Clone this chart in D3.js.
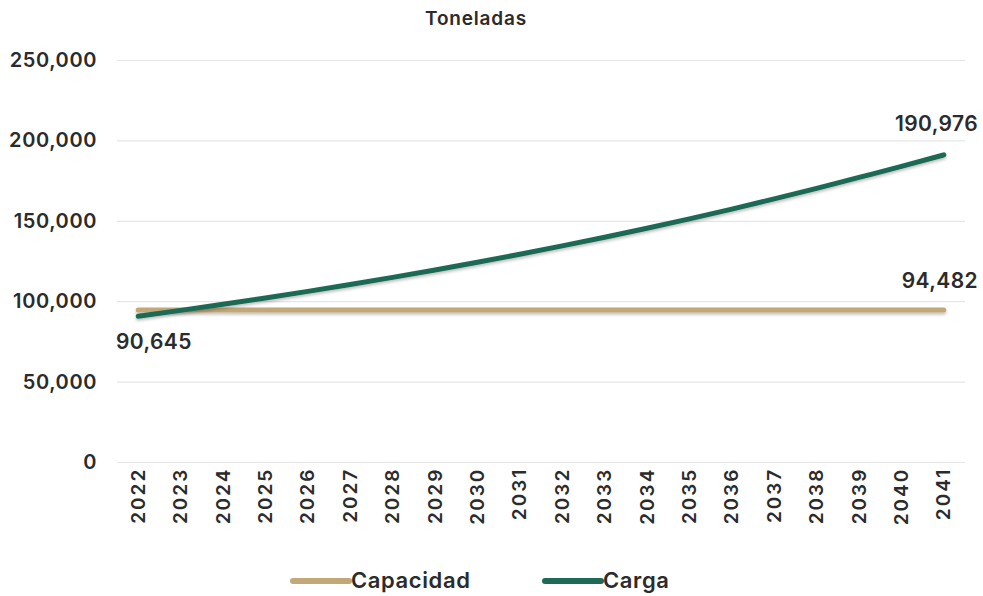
<!DOCTYPE html>
<html><head><meta charset="utf-8">
<script src="https://cdn.jsdelivr.net/npm/d3@7"></script>
<style>
body{margin:0;background:#fff;}
svg{font-family:Inter, "Open Sans", sans-serif;}
</style></head>
<body><svg id="c" width="983" height="596"></svg>
<script>
const years = [2022,2023,2024,2025,2026,2027,2028,2029,2030,2031,2032,2033,2034,2035,2036,2037,2038,2039,2040,2041];
const capacidad = [94482,94482,94482,94482,94482,94482,94482,94482,94482,94482,94482,94482,94482,94482,94482,94482,94482,94482,94482,94482];
const carga = [90645,94300,98100,102000,106100,110400,114800,119400,124200,129200,134400,139800,145400,151200,157300,163600,170200,177000,183800,190976];
const yTicks = [0,50000,100000,150000,200000,250000];
const seriesNames = ["Capacidad","Carga"];
const colors = {"Capacidad":"#c2a878","Carga":"#1d6b55"};

const svg = d3.select("#c");
const x = d3.scaleBand().domain(years).range([117,965]);
const y = d3.scaleLinear().domain([0,250000]).range([462,60]);
const cx = d => x(d)+x.bandwidth()/2;
const fmt = d3.format(",");
const txt = "#2b2b2b";

const defs = svg.append("defs");
const f = defs.append("filter").attr("id","sh").attr("filterUnits","userSpaceOnUse")
  .attr("x",0).attr("y",0).attr("width",983).attr("height",596);
f.append("feDropShadow").attr("dx",0).attr("dy",2).attr("stdDeviation",1.5).attr("flood-color","#000").attr("flood-opacity",0.25);

svg.append("text").attr("x",476).attr("y",25).attr("text-anchor","middle")
  .attr("font-size",19).attr("font-weight",600).attr("letter-spacing",0.8).attr("fill",txt).text("Toneladas");

// y axis
const ya = svg.append("g").attr("transform","translate(117,0)")
  .call(d3.axisLeft(y).tickValues(yTicks).tickFormat(fmt).tickSize(-848).tickPadding(20));
ya.select(".domain").remove();
ya.selectAll(".tick line").attr("stroke","#e6e6e6").attr("stroke-width",1.2);
ya.selectAll(".tick text").attr("font-size",20).attr("font-weight",600).attr("letter-spacing",0.6).attr("fill",txt).attr("font-family","Inter, sans-serif");

// x axis
const xa = svg.append("g").attr("transform","translate(0,462)")
  .call(d3.axisBottom(x).tickSize(0).tickPadding(0));
xa.select(".domain").remove();
xa.selectAll(".tick text").attr("font-size",19).attr("font-weight",600).attr("letter-spacing",2).attr("fill",txt)
  .attr("font-family","Inter, sans-serif")
  .attr("transform","rotate(-90)").attr("text-anchor","end").attr("dx","-0.3em").attr("dy","0.35em").attr("y",0).attr("x",0);

const line = d3.line().x((d,i)=>cx(years[i])).y(d=>y(d)).curve(d3.curveMonotoneX);
svg.append("path").datum(capacidad).attr("d",line).attr("fill","none")
  .attr("stroke",colors.Capacidad).attr("stroke-width",5).attr("stroke-linecap","round").attr("filter","url(#sh)");
svg.append("path").datum(carga).attr("d",line).attr("fill","none")
  .attr("stroke",colors.Carga).attr("stroke-width",5).attr("stroke-linecap","round").attr("filter","url(#sh)");

// data labels
const last = years.length-1;
const lab = (xx,yy,anchor,t)=>svg.append("text").attr("x",xx).attr("y",yy).attr("text-anchor",anchor)
  .attr("font-size",21).attr("font-weight",600).attr("letter-spacing",0.4).attr("fill",txt).text(t);
lab(116, y(carga[0])+33, "start", fmt(carga[0]));
lab(978, y(carga[last])-24, "end", fmt(carga[last]));
lab(978, y(capacidad[last])-22, "end", fmt(capacidad[last]));

// legend
const leg = [{n:"Capacidad",x:293},{n:"Carga",x:545}];
leg.forEach(l=>{
  svg.append("line").attr("x1",l.x).attr("x2",l.x+56).attr("y1",581).attr("y2",581)
    .attr("stroke",colors[l.n]).attr("stroke-width",6).attr("stroke-linecap","round");
  svg.append("text").attr("x",l.x+58).attr("y",588).attr("font-size",22).attr("font-weight",600).attr("letter-spacing",0.6).attr("fill",txt).text(l.n);
});
</script></body></html>
